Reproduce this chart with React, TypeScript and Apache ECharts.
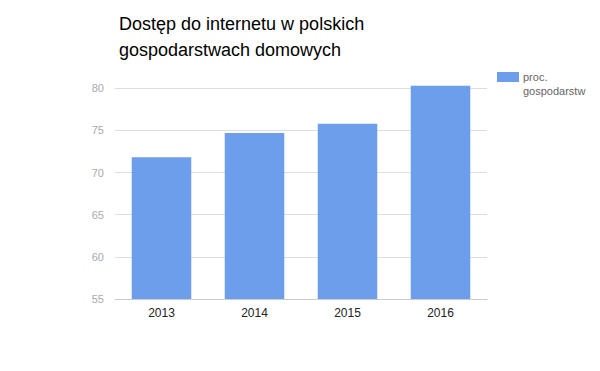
import React, { useEffect, useRef } from "react";
import * as echarts from "echarts";

const categories = ["2013", "2014", "2015", "2016"];
const values = [71.8, 74.7, 75.8, 80.3];
const seriesName = "proc. gospodarstw";
const titleText = "Dostęp do internetu w polskich\ngospodarstwach domowych";

export default function App() {
  const ref = useRef<HTMLDivElement>(null);
  useEffect(() => {
    document.body.style.margin = "0";
    const chart = echarts.init(ref.current!, null, { renderer: "svg" });
    chart.setOption({
      animation: false,
      backgroundColor: "#fff",
      title: {
        text: titleText,
        left: 114,
        top: 6,
        textStyle: {
          fontFamily: "Liberation Sans, Arial, sans-serif",
          fontSize: 18,
          fontWeight: "normal",
          color: "#000",
          lineHeight: 26,
        },
      },
      grid: { left: 115, right: 113, top: 84, bottom: 72 },
      xAxis: {
        type: "category",
        data: categories,
        axisTick: { show: false },
        axisLine: { lineStyle: { color: "#ccc" } },
        axisLabel: {
          color: "#222",
          fontSize: 12,
          fontFamily: "Liberation Sans, Arial, sans-serif",
          margin: 8,
        },
      },
      yAxis: {
        type: "value",
        min: 55,
        max: 80.5,
        interval: 5,
        axisLine: { show: false },
        axisTick: { show: false },
        splitLine: { showMaxLine: false, lineStyle: { color: "#ddd" } },
        axisLabel: {
          showMaxLabel: false,
          color: "#aaa",
          fontSize: 11,
          fontFamily: "Liberation Sans, Arial, sans-serif",
          margin: 11,
        },
      },
      series: [
        {
          name: seriesName,
          type: "bar",
          data: values,
          barWidth: "64%",
          itemStyle: { color: "#6d9eeb" },
        },
      ],
      graphic: [
        {
          type: "rect",
          shape: { x: 497, y: 72, width: 22, height: 10 },
          style: { fill: "#6d9eeb" },
        },
        {
          type: "text",
          x: 523,
          y: 70,
          style: {
            text: "proc.\ngospodarstw",
            fill: "#666",
            fontSize: 11,
            lineHeight: 14,
            fontFamily: "Liberation Sans, Arial, sans-serif",
          },
        },
      ],
    });
    return () => chart.dispose();
  }, []);
  return <div ref={ref} style={{ width: 600, height: 371 }} />;
}
